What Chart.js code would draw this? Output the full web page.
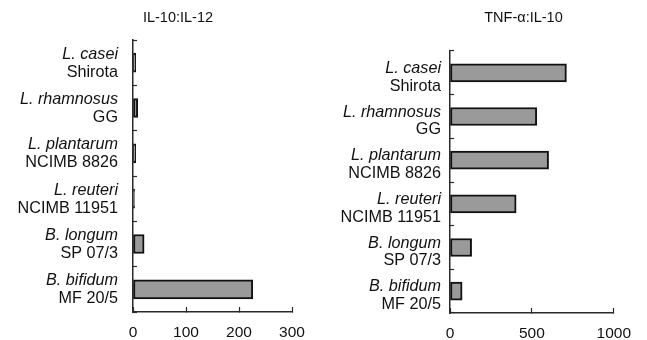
<!DOCTYPE html>
<html>
<head>
<meta charset="utf-8">
<script src="https://cdn.jsdelivr.net/npm/chart.js@4.4.0/dist/chart.umd.min.js"></script>
<style>
  html, body { margin: 0; padding: 0; background: #fff; }
  #wrap { position: relative; width: 647px; height: 340px; }
  #leftChart { position: absolute; left: 0; top: 0; }
  #rightChart { position: absolute; left: 323px; top: 0; }
</style>
</head>
<body>
<div id="wrap">
  <canvas id="leftChart" width="323" height="340"></canvas>
  <canvas id="rightChart" width="324" height="340"></canvas>
</div>
<script>
const species = ['L. casei', 'L. rhamnosus', 'L. plantarum', 'L. reuteri', 'B. longum', 'B. bifidum'];
const strains = ['Shirota', 'GG', 'NCIMB 8826', 'NCIMB 11951', 'SP 07/3', 'MF 20/5'];
const il10Il12 = [5, 9, 5, 3, 21, 226];
const tnfIl10 = [711, 530, 602, 404, 132, 74];
const leftTicks = [0, 100, 200, 300];
const rightTicks = [0, 500, 1000];

const fontFamily = '"Liberation Sans", Arial, sans-serif';
const axisColor = '#2a2a2a';
const textColor = '#111';

// draws the two-line category labels (italic species + strain) and the title
const labelPlugin = {
  id: 'labelPlugin',
  afterDraw(chart, args, opts) {
    const ctx = chart.ctx;
    const yScale = chart.scales.y;
    ctx.save();
    ctx.fillStyle = textColor;
    ctx.textAlign = 'right';
    ctx.textBaseline = 'middle';
    for (let i = 0; i < species.length; i++) {
      const y = yScale.getPixelForTick(i);
      ctx.font = 'italic 16.2px ' + fontFamily;
      ctx.fillText(species[i], opts.labelX, y + opts.off1);
      ctx.font = '16.2px ' + fontFamily;
      ctx.fillText(strains[i], opts.labelX, y + opts.off2);
    }
    ctx.textAlign = 'center';
    ctx.font = '14.5px ' + fontFamily;
    ctx.fillText(opts.title, opts.titleX, opts.titleY);
    ctx.restore();
  }
};

function makeChart(id, values, ticks, o) {
  return new Chart(document.getElementById(id), {
    type: 'bar',
    data: {
      labels: species,
      datasets: [{
        data: values,
        backgroundColor: '#9a9a9a',
        borderColor: '#111',
        borderWidth: 2,
        borderSkipped: false,
        barThickness: o.barThickness
      }]
    },
    options: {
      indexAxis: 'y',
      responsive: false,
      animation: false,
      layout: { padding: { top: o.top, right: o.right, left: 0, bottom: 0 } },
      plugins: {
        legend: { display: false },
        tooltip: { enabled: false },
        labelPlugin: o.labels
      },
      scales: {
        x: {
          min: 0,
          max: ticks[ticks.length - 1],
          afterBuildTicks: function(scale) {
            scale.ticks = ticks.map(v => ({ value: v }));
          },
          afterFit: function(scale) { scale.height = o.xHeight; },
          grid: { drawOnChartArea: false, tickLength: -5, color: axisColor, tickWidth: 1.2 },
          border: { color: axisColor, width: 1.5 },
          ticks: {
            color: textColor, padding: 16, maxRotation: 0,
            font: { size: 15.5, family: fontFamily },
            callback: function(v) { return String(v); }
          }
        },
        y: {
          afterFit: function(scale) { scale.width = o.yWidth; },
          grid: { drawOnChartArea: false, tickLength: -4, color: axisColor, tickWidth: 1.2 },
          border: { color: axisColor, width: 1.5 },
          ticks: { display: false }
        }
      }
    },
    plugins: [labelPlugin]
  });
}

makeChart('leftChart', il10Il12, leftTicks, {
  top: 40, right: 31, xHeight: 28, yWidth: 133, barThickness: 19,
  labels: { labelX: 118, off1: -8.5, off2: 9.5, title: 'IL-10:IL-12', titleX: 178, titleY: 18 }
});

makeChart('rightChart', tnfIl10, rightTicks, {
  top: 51, right: 31, xHeight: 27, yWidth: 127, barThickness: 18,
  labels: { labelX: 118, off1: -4.5, off2: 13.5, title: 'TNF-\u03b1:IL-10', titleX: 200.5, titleY: 18 }
});
</script>
</body>
</html>
